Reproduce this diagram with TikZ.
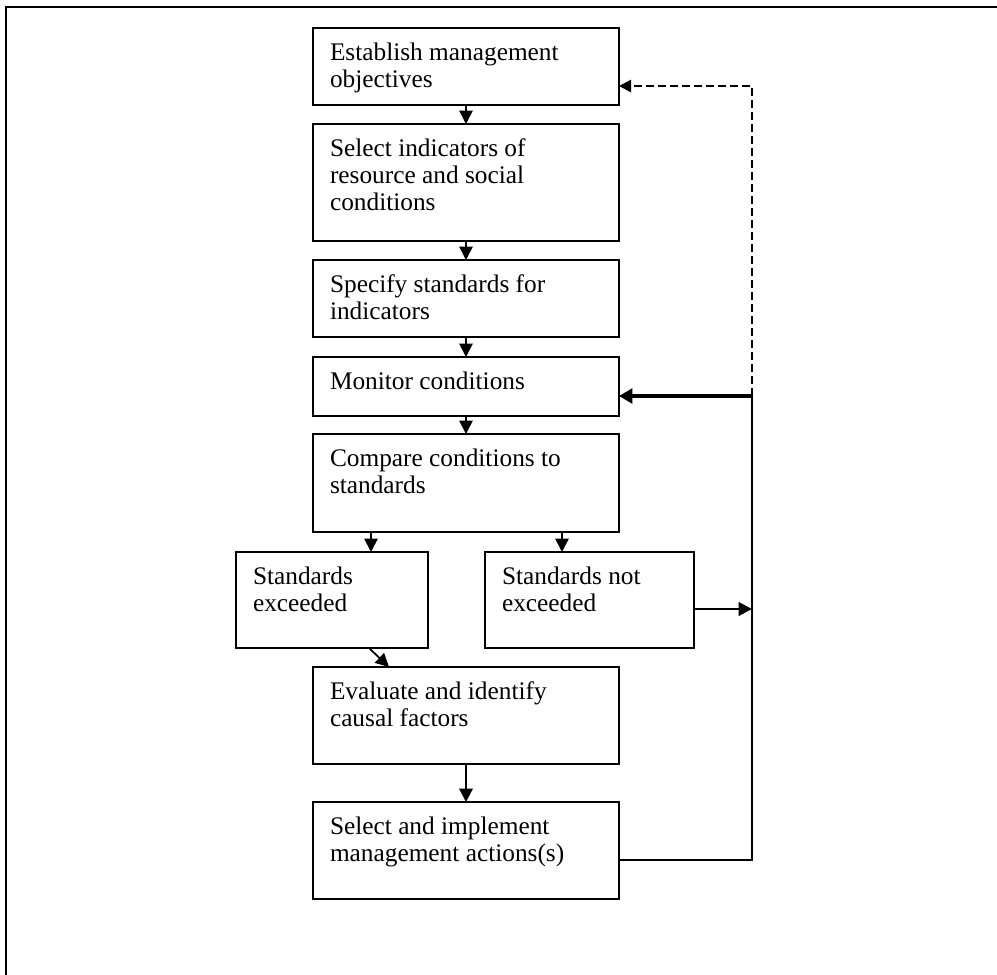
\documentclass[tikz,border=0pt]{standalone}
\usepackage{fontspec}
\setmainfont{Liberation Serif}
\usetikzlibrary{arrows.meta}
\newcommand\flowbox[6]{%
  \pgfmathsetlengthmacro\fbW{0.75*(#4-#2)}%
  \pgfmathsetlengthmacro\fbH{0.75*(#5-#3)}%
  \pgfmathsetlengthmacro\fbTW{0.75*(#4-#2-34)}%
  \pgfmathsetlengthmacro\fbTH{0.75*(#5-#3-28)}%
  \node[box, minimum width=\fbW, minimum height=\fbH] (#1) at ({(#2+#4)/2},{(#3+#5)/2})
    {\parbox[c][\fbTH][t]{\fbTW}{\raggedright\strut #6}};%
}
\tikzset{
  box/.style={draw, line width=1.4pt, inner sep=0pt, outer sep=0pt},
  conn/.style={line width=1.4pt},
  arr/.style={line width=1.3pt, -{Triangle[length=10pt,width=10pt]}},
  thickarr/.style={line width=2.8pt, -{Triangle[length=10pt,width=11pt]}},
  medarr/.style={line width=2.2pt, -{Triangle[length=10pt,width=10pt]}},
  dasharr/.style={line width=1.6pt, dash pattern=on 6pt off 3pt, -{Triangle[length=9pt,width=9pt]}},
  frame/.style={line width=2.2pt}
}
\begin{document}
\begin{tikzpicture}[x=0.75pt, y=-0.75pt, font=\fontsize{19}{20.25}\selectfont]
\useasboundingbox (0,0) rectangle (997,975);
\draw[frame] (6,976) -- (6,7) -- (998,7);

\flowbox{b1}{313}{28}{619}{105}{Establish management\\objectives}
\flowbox{b2}{313}{124}{619}{241}{Select indicators of\\resource and social\\conditions}
\flowbox{b3}{313}{260}{619}{337}{Specify standards for\\indicators}
\flowbox{b4}{313}{357}{619}{416}{Monitor conditions}
\flowbox{b5}{313}{434}{619}{532}{Compare conditions to\\standards}
\flowbox{b6}{236}{552}{428}{648}{Standards\\exceeded}
\flowbox{b7}{485}{552}{694}{648}{Standards not\\exceeded}
\flowbox{b8}{313}{667}{619}{764}{Evaluate and identify\\causal factors}
\flowbox{b9}{313}{802}{619}{899}{Select and implement\\management actions(s)}

\coordinate (xl) at (371,0);
\coordinate (xr) at (562,0);
\coordinate (d1) at (369,0);
\coordinate (d2) at (389,0);
\coordinate (j1) at (752,86);
\coordinate (j4) at (752,396);
\coordinate (j7) at (752,609);
\coordinate (j9) at (752,860);

\draw[arr] (b1.south) -- (b2.north);
\draw[arr] (b2.south) -- (b3.north);
\draw[arr] (b3.south) -- (b4.north);
\draw[arr] (b4.south) -- (b5.north);
\draw[arr] (b5.south -| xl) -- (b6.north -| xl);
\draw[arr] (b5.south -| xr) -- (b7.north -| xr);
\draw[arr] (b6.south -| d1) -- (b8.north -| d2);
\draw[arr, line width=1.7pt] (b8.south) -- (b9.north);
\draw[medarr] (b7.east |- j7) -- (j7);
\draw[conn] (b9.east |- j9) -- (j9) -- (j4);
\draw[thickarr] (j4) -- (b4.east |- j4);
\draw[dasharr] (j4) -- (j1) -- (b1.east |- j1);
\end{tikzpicture}
\end{document}
